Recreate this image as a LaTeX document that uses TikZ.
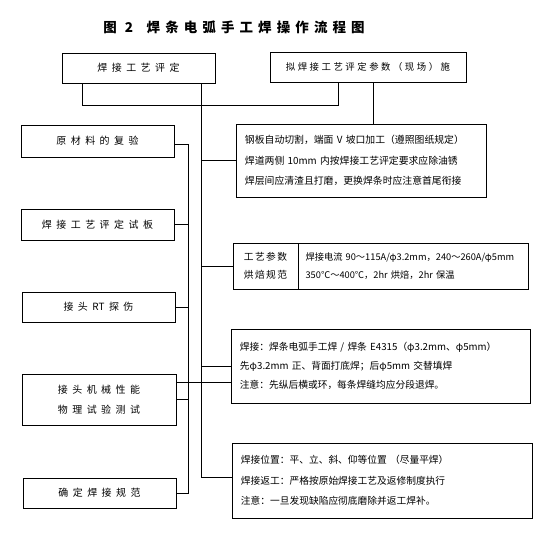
\documentclass[tikz,border=0pt]{standalone}
\usepackage{fontspec}
\setmainfont{Noto Sans CJK SC}

\begin{document}
\begin{tikzpicture}[x=0.03cm, y=-0.03cm,
  box/.style={draw, line width=0.8pt, rectangle, inner sep=0pt},
  lbox/.style={box, minimum width=4.59cm, align=center,
    font=\fontsize{8.5}{17}\selectfont\addfontfeature{LetterSpace=45}},
  rbox/.style={box, align=left, inner xsep=0.27cm},
  line/.style={line width=0.8pt}]
  \useasboundingbox (0,0) rectangle (547,534);

  % Title
  \node[font=\fontsize{11.5}{13}\selectfont\bfseries\addfontfeature{LetterSpace=38}] (title) at (234,27)
    {图 2\quad 焊条电弧手工焊操作流程图};

  % Top row
  \node[box, minimum width=4.59cm, minimum height=0.9cm,
    font=\fontsize{8.5}{10}\selectfont\addfontfeature{LetterSpace=45}] (T1) at (138.5,68) {焊接工艺评定};
  \node[box, minimum width=5.88cm, minimum height=0.9cm,
    font=\fontsize{8}{10}\selectfont\addfontfeature{LetterSpace=27}] (T2) at (368,67) {拟焊接工艺评定参数（现场）施};

  % Left column
  \node[lbox, minimum height=0.96cm] (L1) at (97.5,141) {原材料的复验};
  \node[lbox, minimum height=0.93cm] (L2) at (97.5,224.5) {焊接工艺评定试板};
  \node[lbox, minimum height=0.9cm] (L3) at (98.5,307) {接头\hspace{0.45em}{\addfontfeature{LetterSpace=0}RT\hspace{0.45em}}探伤};
  \node[lbox, minimum width=4.62cm, minimum height=1.53cm] (L4) at (99,399.5) {接头机械性能\\物理试验测试};
  \node[lbox, minimum height=0.9cm] (L5) at (99.5,493) {确定焊接规范};

  % Right column
  \node[rbox, text width=6.96cm, minimum height=2.19cm, font=\fontsize{8.4}{17.4}\selectfont] (R1) at (361,160.5)
    {钢板自动切割，端面 V 坡口加工（遵照图纸规定）\\
     焊道两侧 10mm 内按焊接工艺评定要求应除油锈\\
     焊层间应清渣且打磨，更换焊条时应注意首尾衔接};
  \node[box, minimum width=1.95cm, minimum height=1.38cm, align=center,
    font=\fontsize{8.3}{15.3}\selectfont\addfontfeature{LetterSpace=15}] (R2a) at (265.5,266) {工艺参数\\烘焙规范};
  \node[rbox, anchor=west, text width=6.5cm, inner xsep=0.2cm, minimum height=1.38cm,
    font=\fontsize{7.9}{15.3}\selectfont] (R2b) at (R2a.east)
    {焊接电流~90～115A/φ3.2mm，240～260A/φ5mm\\
     350℃～400℃，2hr 烘焙，2hr 保温};
  \node[rbox, text width=8.43cm, minimum height=2.22cm, font=\fontsize{8.3}{16.2}\selectfont] (R4) at (380.5,366)
    {焊接：焊条电弧手工焊 / 焊条 E4315（φ3.2mm、φ5mm）\\
     先φ3.2mm 正、背面打底焊；后φ5mm 交替填焊\\
     注意：先纵后横或环，每条焊缝均应分段退焊。};
  \node[rbox, text width=8.46cm, minimum height=2.25cm, font=\fontsize{8.3}{17.4}\selectfont] (R5) at (382,480.5)
    {焊接位置：平、立、斜、仰等位置 （尽量平焊）\\
     焊接返工：严格按原始焊接工艺及返修制度执行\\
     注意：一旦发现缺陷应彻底磨除并返工焊补。};

  % Connectors from the top boxes
  \draw[line] ([xshift=0.63cm]T1.south west) -- ++(0,22) -| ([xshift=2.07cm]T2.south west);
  \draw[line] ([xshift=3.12cm]T2.south west) -- ([xshift=3.12cm]T2.south west |- R1.north);

  % Right bus
  \coordinate (rbus) at ([xshift=-0.42cm]T1.south east);
  \draw[line] (rbus) |- ([yshift=0.1cm]R5.west);
  \foreach \n in {R1,R2a,R4}
    \draw[line] (\n.west) -- (\n.west -| rbus);

  % Left bus
  \coordinate (lbus) at (188,0);
  \draw[line] ([yshift=-0.09cm]L1.east) -| (lbus |- L5.east) -- (L5.east);
  \foreach \n in {L2,L3,L4}
    \draw[line] (\n.east) -- (\n.east -| lbus);
  \draw[line] ([yshift=0.5cm]L4.east) -- ([yshift=0.5cm]L4.east -| R4.west);
\end{tikzpicture}
\end{document}
